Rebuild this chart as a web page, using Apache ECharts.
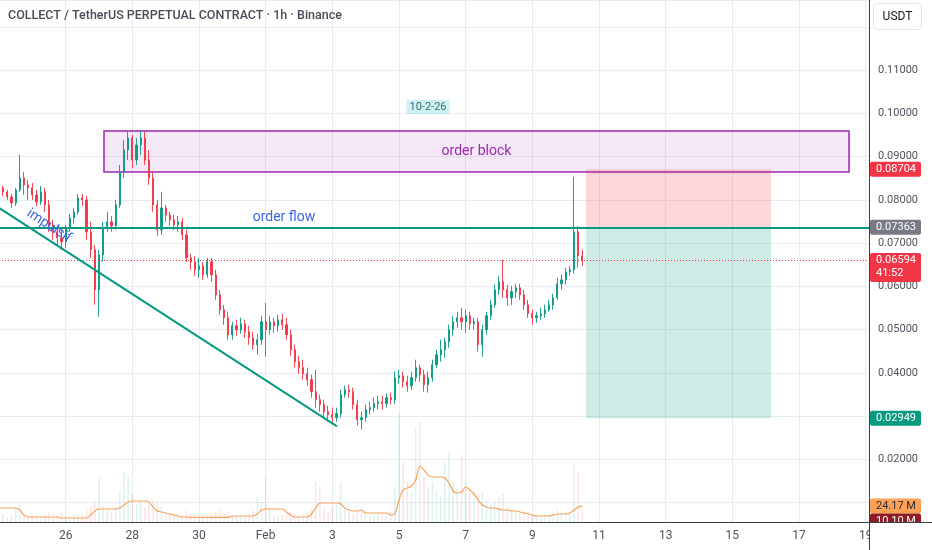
<!DOCTYPE html>
<html><head><meta charset="utf-8">
<script src="https://cdn.jsdelivr.net/npm/echarts/dist/echarts.min.js"></script>
<style>html,body{margin:0;padding:0;background:#fff;}#chart{width:932px;height:550px;}</style>
</head><body><div id="chart"></div>
<script>
// ---- data (3h candles), time in days from Jan 24 00:00 ----
const candleHours = 3;
const opens = [0.08113,0.08275,0.08182,0.08067,0.07928,0.08229,0.08506,0.08344,0.08275,0.08113,
0.07951,0.08182,0.07882,0.07420,0.07259,0.07120,0.07028,0.07351,0.07582,0.07720,
0.08044,0.07998,0.07259,0.06843,0.05919,0.06727,0.07351,0.07490,0.07397,0.07882,
0.08644,0.09152,0.09430,0.08921,0.09268,0.09430,0.08921,0.08506,0.07882,0.07305,
0.07813,0.07651,0.07536,0.07420,0.07490,0.07189,0.06658,0.06566,0.06381,0.06473,
0.06266,0.06566,0.06266,0.05804,0.05457,0.05272,0.04880,0.05088,0.04995,0.05134,
0.04949,0.04811,0.04649,0.04764,0.05180,0.04995,0.05180,0.05088,0.05226,0.05111,
0.04880,0.04533,0.04256,0.04118,0.03979,0.03841,0.03563,0.03379,0.03263,0.03101,
0.03032,0.02963,0.03055,0.03494,0.03610,0.03563,0.03263,0.02917,0.02963,0.03148,
0.03194,0.03286,0.03332,0.03286,0.03425,0.03379,0.03887,0.03933,0.03794,0.03702,
0.03887,0.04118,0.03956,0.03725,0.03887,0.04187,0.04418,0.04533,0.04718,0.04995,
0.05180,0.05272,0.05180,0.05319,0.05134,0.05180,0.04649,0.04995,0.05319,0.05573,
0.05919,0.06104,0.05919,0.05734,0.05873,0.05965,0.05804,0.05573,0.05365,0.05272,
0.05319,0.05365,0.05457,0.05573,0.05734,0.06058,0.06150,0.06335,0.06381,0.07259,
0.06704];
const closes = [0.08275,0.08182,0.08067,0.07928,0.08229,0.08506,0.08344,0.08275,0.08113,0.07951,
0.08182,0.07882,0.07420,0.07259,0.07120,0.07028,0.07351,0.07582,0.07720,0.08044,
0.07998,0.07259,0.06843,0.05919,0.06727,0.07351,0.07490,0.07397,0.07882,0.08644,
0.09152,0.09430,0.08921,0.09268,0.09430,0.08921,0.08506,0.07882,0.07305,0.07813,
0.07651,0.07536,0.07420,0.07490,0.07189,0.06658,0.06566,0.06381,0.06473,0.06266,
0.06566,0.06266,0.05804,0.05457,0.05272,0.04880,0.05088,0.04995,0.05134,0.04949,
0.04811,0.04649,0.04764,0.05180,0.04995,0.05180,0.05088,0.05226,0.05111,0.04880,
0.04533,0.04256,0.04118,0.03979,0.03841,0.03563,0.03379,0.03263,0.03101,0.03032,
0.02963,0.03055,0.03494,0.03610,0.03563,0.03263,0.02917,0.02963,0.03148,0.03194,
0.03286,0.03332,0.03286,0.03425,0.03379,0.03887,0.03933,0.03794,0.03702,0.03887,
0.04118,0.03956,0.03725,0.03887,0.04187,0.04418,0.04533,0.04718,0.04995,0.05180,
0.05272,0.05180,0.05319,0.05134,0.05180,0.04649,0.04995,0.05319,0.05573,0.05919,
0.06104,0.05919,0.05734,0.05873,0.05965,0.05804,0.05573,0.05365,0.05272,0.05319,
0.05365,0.05457,0.05573,0.05734,0.06058,0.06150,0.06335,0.06381,0.07259,0.06704,
0.06594];
const lows = [0.08044,0.08090,0.07998,0.07813,0.07859,0.08182,0.08113,0.07998,0.07998,0.07859,
0.07882,0.07720,0.07259,0.07074,0.06958,0.06843,0.06889,0.07259,0.07443,0.07651,
0.07859,0.07074,0.06658,0.05573,0.05296,0.06566,0.07259,0.07259,0.07305,0.07813,
0.08506,0.08921,0.08737,0.08806,0.09037,0.08806,0.08344,0.07720,0.07166,0.07189,
0.07490,0.07397,0.07305,0.07259,0.07074,0.06566,0.06381,0.06242,0.06196,0.06150,
0.06196,0.06104,0.05688,0.05342,0.05111,0.04764,0.04764,0.04857,0.04903,0.04811,
0.04649,0.04533,0.04418,0.04649,0.04372,0.04880,0.04926,0.04949,0.04995,0.04764,
0.04395,0.04118,0.03979,0.03841,0.03702,0.03425,0.03194,0.03101,0.02963,0.02871,
0.02824,0.02871,0.02963,0.03425,0.03425,0.03148,0.02778,0.02686,0.02871,0.03032,
0.03101,0.03148,0.03148,0.03194,0.03263,0.03286,0.03748,0.03656,0.03563,0.03610,
0.03794,0.03794,0.03563,0.03540,0.03794,0.04118,0.04256,0.04349,0.04580,0.04857,
0.05041,0.04995,0.04926,0.04995,0.04995,0.04487,0.04372,0.04880,0.05226,0.05503,
0.05804,0.05734,0.05550,0.05573,0.05734,0.05688,0.05457,0.05272,0.05111,0.05157,
0.05226,0.05272,0.05411,0.05457,0.05688,0.05919,0.06035,0.06242,0.06289,0.06427,
0.06473];
const highs = [0.08344,0.08321,0.08229,0.08136,0.08275,0.09037,0.08644,0.08460,0.08390,0.08229,
0.08321,0.08275,0.07998,0.07536,0.07420,0.07305,0.07420,0.07674,0.07813,0.08136,
0.08136,0.08090,0.07490,0.06958,0.06843,0.07490,0.07720,0.07628,0.07998,0.08806,
0.09383,0.09591,0.09499,0.09430,0.09591,0.09568,0.09152,0.08644,0.07998,0.08182,
0.07882,0.07720,0.07651,0.07628,0.07582,0.07305,0.06750,0.06704,0.06658,0.06566,
0.06658,0.06658,0.06381,0.05919,0.05573,0.05411,0.05180,0.05226,0.05272,0.05226,
0.05088,0.04949,0.04903,0.05319,0.05619,0.05319,0.05272,0.05342,0.05365,0.05272,
0.04995,0.04649,0.04395,0.04302,0.04118,0.03956,0.04071,0.03494,0.03379,0.03240,
0.03194,0.03194,0.03610,0.03702,0.03725,0.03656,0.03379,0.03101,0.03263,0.03332,
0.03425,0.03471,0.03471,0.03517,0.03540,0.04025,0.04071,0.04025,0.03933,0.04025,
0.04302,0.04187,0.04071,0.04025,0.04302,0.04533,0.04764,0.04811,0.05111,0.05319,
0.05411,0.05503,0.05457,0.05411,0.05272,0.05272,0.05111,0.05411,0.05688,0.06035,
0.06242,0.06612,0.06035,0.06011,0.06058,0.06058,0.05919,0.05688,0.05457,0.05411,
0.05503,0.05573,0.05688,0.05827,0.06196,0.06266,0.06427,0.06473,0.08529,0.07397,
0.06843];
// volume in millions
const volumes = [9,12,7.5,10.5,22.5,25.5,9,7.5,10.5,7.5,
9,12,15,12,10.5,13.5,9,7.5,10.5,12,
12,21,22.5,30,66,24,18,15,21,45,
75,67.5,42,27,30,22.5,27,33,30,24,
15,12,13.5,10.5,12,18,13.5,12,9,10.5,
9,12,15,18,13.5,15,9,7.5,9,7.5,
12,18,37.5,30,67.5,21,12,9,10.5,12,
15,12,9,12,15,21,60,52.5,18,15,
22.5,27,60,21,15,12,18,22.5,13.5,12,
10.5,12,13.5,10.5,15,52.5,162,90,60,45,
142.5,150,67.5,52.5,60,45,37.5,90,105,60,
52.5,100,60,45,37.5,42,45,33,27,30,
37.5,42,22.5,18,15,12,18,15,12,10.5,
9,12,10.5,15,18,15,13.5,12,87,75,
18];
const volumeMA = [21,21,21,21,21,18,10.5,7.5,7.5,7.5,
7.5,7.5,7.5,7.5,7.5,6,6,6,6,6,
6,6,10.5,16.5,19.5,19.5,19.5,19.5,19.5,21,
25.5,30,31.5,31.5,31.5,31.5,30,22.5,16.5,15,
13.5,12,10.5,9,7.5,7.5,7,7,7,7,
7,7,7,7,7,7,9,9,9,9,
9,9,12,18,19.5,19.5,19.5,19.5,19.5,15,
10.5,7.5,7.5,7.5,7.5,12,21,28.5,28.5,28.5,
28.5,28.5,27,21,18,16.5,16.5,18,13.5,13.5,
13.5,13.5,13.5,13.5,10.5,12,33,48,51,54,
63,84,78,70.5,67.5,67.5,67.5,66,58.5,46.5,
43.5,45,52.5,48,42,33,25.5,22.5,21,21,
19.5,18,18,16.5,16.5,15,13.5,12,10.5,9,
9,9,9,10.5,12,12,12,13.5,18,22.5,
24.17];
const lastVolumeLabel = '10.10 M';
// tick labels
const dateTickLabels = ['', '26', '28', '30', 'Feb', '3', '5', '7', '9', '11', '13', '15', '17', '19'];
const priceTickLabels = [0.02, 0.04, 0.05, 0.06, 0.07, 0.08, 0.09, 0.10, 0.11];
// drawings (data coordinates: days from Jan 24, price)
const orderBlock = {from: 3.15, to: 25.5, top: 0.09591, bottom: 0.08644, text: 'order block'};
const longPosition = {from: 17.61, to: 23.16, stop: 0.08704, entry: 0.07363, target: 0.02949};
const lastPrice = 0.06594;
const countdown = '41:52';
const trendLine = [[0, 0.07813], [10.14, 0.02763]];
const notes = [
  {text: 'order flow', t: 8.55, price: 0.07582},
  {text: 'impulsif', t: 1.5, price: 0.07397},
  {text: '10-2-26', t: 12.87, price: 0.10146}
];
const titleText = 'COLLECT / TetherUS PERPETUAL CONTRACT · 1h · Binance';

// ---- chart ----
const times = opens.map((_, i) => i * candleHours / 24);
const candleData = times.map((t, i) => [t, opens[i], closes[i], lows[i], highs[i]]);
const UP = '#089981', DOWN = '#f23645';
const volData = times.map((t, i) => ({
  value: [t, volumes[i]],
  itemStyle: {color: closes[i] >= opens[i] ? 'rgba(8,153,129,0.13)' : 'rgba(242,54,69,0.13)'}
}));
const maData = times.map((t, i) => [t, volumeMA[i]]);
const FONT = 'Roboto, "Noto Sans", sans-serif';
const isTick = (v, list) => list.some(x => Math.abs(x - v) < 1e-9);

const chart = echarts.init(document.getElementById('chart'));
const option = {
  animation: false,
  backgroundColor: '#ffffff',
  textStyle: {fontFamily: FONT},
  grid: [
    {left: -1, right: 63, top: 0, bottom: 28, outerBoundsMode: 'none', containLabel: false},
    {left: -1, right: 63, top: 372, bottom: 28, outerBoundsMode: 'none', containLabel: false}
  ],
  xAxis: [
    {type: 'value', gridIndex: 0, min: 0, max: 26.1, interval: 2,
     axisLine: {show: false}, axisTick: {show: false},
     axisLabel: {color: '#50535e', fontSize: 12, fontFamily: FONT, margin: 8, showMinLabel: false, showMaxLabel: false,
       hideOverlap: false,
       formatter: v => { const k = v / 2; return Math.abs(k - Math.round(k)) < 1e-6 ? (dateTickLabels[Math.round(k)] || '') : ''; }},
     splitLine: {show: true, lineStyle: {color: '#e9ecf2', width: 1}}},
    {type: 'value', gridIndex: 1, min: 0, max: 26.1, show: false, splitLine: {show: false}}
  ],
  yAxis: [
    {type: 'value', gridIndex: 0, position: 'right', min: 0.0055, max: 0.1262, splitNumber: 12,
     axisLine: {show: false}, axisTick: {show: false},
     axisLabel: {color: '#50535e', fontSize: 11, fontFamily: FONT, margin: 9, hideOverlap: false,
       formatter: v => isTick(v, priceTickLabels) ? v.toFixed(5) : ''},
     splitLine: {show: true, lineStyle: {color: '#e9ecf2', width: 1}}},
    {type: 'value', gridIndex: 1, min: 0, max: 225, show: false, splitLine: {show: false}}
  ],
  series: [
    {type: 'scatter', name: 'zones', xAxisIndex: 0, yAxisIndex: 0, data: [], z: 1, silent: true,
     markArea: {silent: true, data: [
       [{name: orderBlock.text, xAxis: orderBlock.from, yAxis: orderBlock.top,
         itemStyle: {color: 'rgba(156,39,176,0.1)', borderColor: '#9c27b0', borderWidth: 1.5},
         label: {show: true, position: 'inside', color: '#9c27b0', fontSize: 14, fontFamily: FONT}},
        {xAxis: orderBlock.to, yAxis: orderBlock.bottom}],
       [{xAxis: longPosition.from, yAxis: longPosition.stop, itemStyle: {color: 'rgba(242,54,69,0.2)'}, label: {show: false}},
        {xAxis: longPosition.to, yAxis: longPosition.entry}],
       [{xAxis: longPosition.from, yAxis: longPosition.entry, itemStyle: {color: 'rgba(8,153,129,0.2)'}, label: {show: false}},
        {xAxis: longPosition.to, yAxis: longPosition.target}]
     ]}},
    {type: 'candlestick', name: 'price', xAxisIndex: 0, yAxisIndex: 0, data: candleData,
     encode: {x: 0, y: [1, 2, 3, 4]}, barWidth: 1.8, z: 3, silent: true,
     itemStyle: {color: UP, color0: DOWN, borderColor: UP, borderColor0: DOWN, borderWidth: 0.9}},
    {type: 'scatter', name: 'drawings', xAxisIndex: 0, yAxisIndex: 0, data: [], z: 5, silent: true,
     markLine: {silent: true, precision: 5, symbol: ['none', 'none'], label: {show: false}, animation: false, data: [
       {yAxis: lastPrice, lineStyle: {color: '#f23645', width: 1, type: [1, 2]}},
       {yAxis: longPosition.entry, lineStyle: {color: '#089981', width: 2, type: 'solid'}},
       [{coord: trendLine[0], lineStyle: {color: '#089981', width: 2, type: 'solid'}}, {coord: trendLine[1]}]
     ]},
     markPoint: {silent: true, symbol: 'rect', symbolSize: 1, itemStyle: {color: 'rgba(0,0,0,0)'},
       data: notes.map((n, i) => ({
         coord: [n.t, n.price], value: n.text,
         label: i === 2
           ? {show: true, position: 'inside', formatter: n.text, color: '#4f6870', fontSize: 11, fontFamily: FONT,
              backgroundColor: 'rgba(0,188,212,0.2)', padding: [2, 3, 1, 3]}
           : {show: true, position: 'inside', formatter: n.text, color: '#3d64e0', fontSize: 14, fontFamily: FONT,
              rotate: i === 1 ? -33 : 0}
       }))}},
    {type: 'bar', name: 'volume', xAxisIndex: 1, yAxisIndex: 1, data: volData, barWidth: 1.6, z: 2, silent: true},
    {type: 'line', name: 'volume MA', xAxisIndex: 1, yAxisIndex: 1, data: maData, showSymbol: false, smooth: 0.3,
     lineStyle: {color: '#f7a35c', width: 1.2}, z: 4, silent: true}
  ]
};
chart.setOption(option);

// price-scale tags and chart chrome
const AX = 869.5;
function tagEls(y, bg, fg, lines, h) {
  const els = [{type: 'rect', shape: {x: 870, y: y - 7.5, width: 51, height: h || 15, r: 2}, style: {fill: bg}, z: 100}];
  lines.forEach((s, i) => els.push({type: 'text', x: 876, y: y + i * 13, z: 101,
    style: {text: s, fill: fg, font: '11px ' + FONT, textVerticalAlign: 'middle', verticalAlign: 'middle'}}));
  return els;
}
const py = v => chart.convertToPixel({yAxisIndex: 0}, v);
const vy = v => chart.convertToPixel({yAxisIndex: 1}, v);
const yVolTag = vy(volumeMA[volumeMA.length - 1]);
let g = [];
g = g.concat(tagEls(py(longPosition.stop), '#f23645', '#ffffff', [longPosition.stop.toFixed(5)]));
g = g.concat(tagEls(py(longPosition.entry), '#787b86', '#ffffff', [longPosition.entry.toFixed(5)]));
g = g.concat(tagEls(py(lastPrice), '#f23645', '#ffffff', [lastPrice.toFixed(5), countdown], 29));
g = g.concat(tagEls(py(longPosition.target), '#089981', '#ffffff', [longPosition.target.toFixed(5)]));
g = g.concat(tagEls(yVolTag, '#ffa057', '#2a2e39', [volumeMA[volumeMA.length - 1].toFixed(2) + ' M']));
g = g.concat(tagEls(yVolTag + 15, '#8e1c24', '#ffffff', [lastVolumeLabel]));
g.push({type: 'rect', shape: {x: 870, y: 522.5, width: 62, height: 28}, style: {fill: '#ffffff'}, z: 110});
g.push({type: 'line', shape: {x1: AX, y1: 0, x2: AX, y2: 550}, style: {stroke: '#3b3e47', lineWidth: 1}, z: 120});
g.push({type: 'line', shape: {x1: 0, y1: 522.5, x2: 932, y2: 522.5}, style: {stroke: '#3b3e47', lineWidth: 1}, z: 120});
g.push({type: 'rect', shape: {x: 873.5, y: 3.5, width: 48, height: 26, r: 4}, style: {fill: '#ffffff', stroke: '#e0e3eb', lineWidth: 1}, z: 120});
g.push({type: 'text', x: 897.5, y: 17, z: 121, style: {text: 'USDT', fill: '#131722', font: '12px ' + FONT, align: 'center', textAlign: 'center', verticalAlign: 'middle', textVerticalAlign: 'middle'}});
g.push({type: 'text', x: 8, y: 16, z: 121, style: {text: titleText, fill: '#4a4d57', font: '500 12.5px ' + FONT, verticalAlign: 'middle', textVerticalAlign: 'middle'}});
chart.setOption({graphic: {elements: g}});
</script>
</body></html>
